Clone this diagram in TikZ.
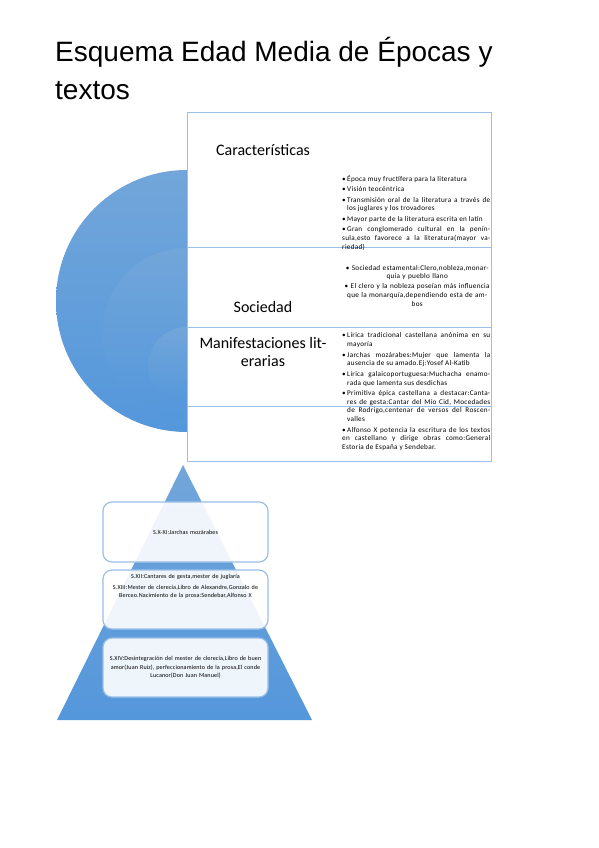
\documentclass[tikz,border=0pt]{standalone}
\usepackage{fontspec}
\setmainfont{Carlito}
\newfontfamily\titulofont{Liberation Sans}
\usetikzlibrary{positioning}

\definecolor{azulclaro}{RGB}{114,166,218}
\definecolor{azulfuerte}{RGB}{84,151,219}
\definecolor{marco}{RGB}{155,191,232}

\newcommand{\punto}{\par\parskip=1.8pt\hangindent=5pt\hangafter=1\noindent\hbox to 5pt{\textbullet\hss}}

\begin{document}
\begin{tikzpicture}[x=1pt,y=-1pt,
  cabecera/.style={font=\fontsize{16}{18}\selectfont, align=center, inner sep=0pt},
  lista/.style={font=\fontsize{7.2}{8.7}\selectfont\addfontfeature{LetterSpace=4},
    text width=148pt, align=justify, inner sep=0pt, anchor=north west},
  caja/.style={draw=marco, line width=1.2pt, rounded corners=9pt, fill=white,
    fill opacity=0.9, text opacity=1, minimum width=165pt, inner sep=0pt},
  piramide/.style={font=\fontsize{6.1}{8.5}\selectfont\addfontfeature{LetterSpace=2},
    text width=163pt, align=center}]

\fill[white] (0,0) rectangle (599,848);
\useasboundingbox (0,0) rectangle (599,848);

% titulo
\node[anchor=base west, inner sep=0pt, align=left,
  font=\titulofont\fontsize{28}{38}\selectfont] (titulo) at (55,100)
  {Esquema Edad Media de Épocas y\\ textos};

% semicirculo
\shade[top color=azulclaro, bottom color=azulfuerte]
  (187,170) arc[start angle=90, end angle=270, radius=131pt] -- cycle;
\shade[top color=azulclaro, bottom color=azulfuerte]
  (187,248) arc[start angle=90, end angle=270, radius=85pt] -- cycle;
\shade[top color=azulclaro, bottom color=azulfuerte]
  (187,327) arc[start angle=90, end angle=270, radius=39pt] -- cycle;

% panel
\draw[marco, line width=1pt] (187,113) rectangle (491,461);
\foreach \y in {247,327,406}
  \draw[marco, line width=1pt] (187,\y) -- (491,\y);

\node[cabecera, anchor=base] (caract) at (263,155) {Características};
\node[cabecera, anchor=base] (socie) at (263,312) {Sociedad};
\node[cabecera, anchor=base] (manif) at (263,366) {Manifestaciones lit-\\erarias};

\node[lista] (lcaract) at (342,170.5) {\punto Época muy fructífera para la literatura
  \punto Visión teocéntrica
  \punto Transmisión oral de la literatura a través de\linebreak los juglares y los trovadores
  \punto Mayor parte de la literatura escrita en latín
  \punto Gran conglomerado cultural en la penín-\linebreak sula,esto favorece a la literatura(mayor va-\linebreak riedad)};

\node[lista, align=center, text width=146pt] (lsocie) at (344,265)
  {\textbullet\ Sociedad estamental:Clero,nobleza,monar-\\quía y pueblo llano\\[1.3pt]
   \textbullet\ El clero y la nobleza poseían más influencia\\que la monarquía,dependiendo esta de am-\\bos};

\node[lista] (lmanif) at (342,327.2) {\punto Lírica tradicional castellana anónima en su\linebreak mayoría
  \punto Jarchas mozárabes:Mujer que lamenta la\linebreak ausencia de su amado.Ej:Yosef Al-Katib
  \punto Lírica galaicoportuguesa:Muchacha enamo-\linebreak rada que lamenta sus desdichas
  \punto Primitiva épica castellana a destacar:Canta-\linebreak res de gesta:Cantar del Mío Cid, Mocedades\linebreak de Rodrigo,centenar de versos del Roscen-\linebreak valles
  \punto Alfonso X potencia la escritura de los textos\linebreak en castellano y dirige obras como:General\linebreak Estoria de España y Sendebar.};

% piramide
\shade[top color=azulclaro, bottom color=azulfuerte] (183,465) -- (312,720) -- (57,720) -- cycle;

\node[caja, piramide, minimum height=60pt] (xi) at (185.5,532) {S.X-XI:Jarchas mozárabes};
\node[caja, minimum height=59pt] (xiii) at (185.5,599.5) {};
\node[piramide, inner sep=0pt, below=5pt of xiii.north] (txiii)
  {S.XII:Cantares de gesta,mester de juglaría\\[2pt]
   S.XIII:Mester de clerecía,Libro de Alexandre,Gonzalo de\\Berceo.Nacimiento de la prosa:Sendebar,Alfonso X};
\node[caja, piramide, minimum height=59pt] (xiv) at (185.5,667.5)
  {S.XIV:Desintegración del mester de clerecía,Libro de buen\\amor(Juan Ruiz), perfeccionamiento de la prosa,El conde\\Lucanor(Don Juan Manuel)};

\end{tikzpicture}
\end{document}
